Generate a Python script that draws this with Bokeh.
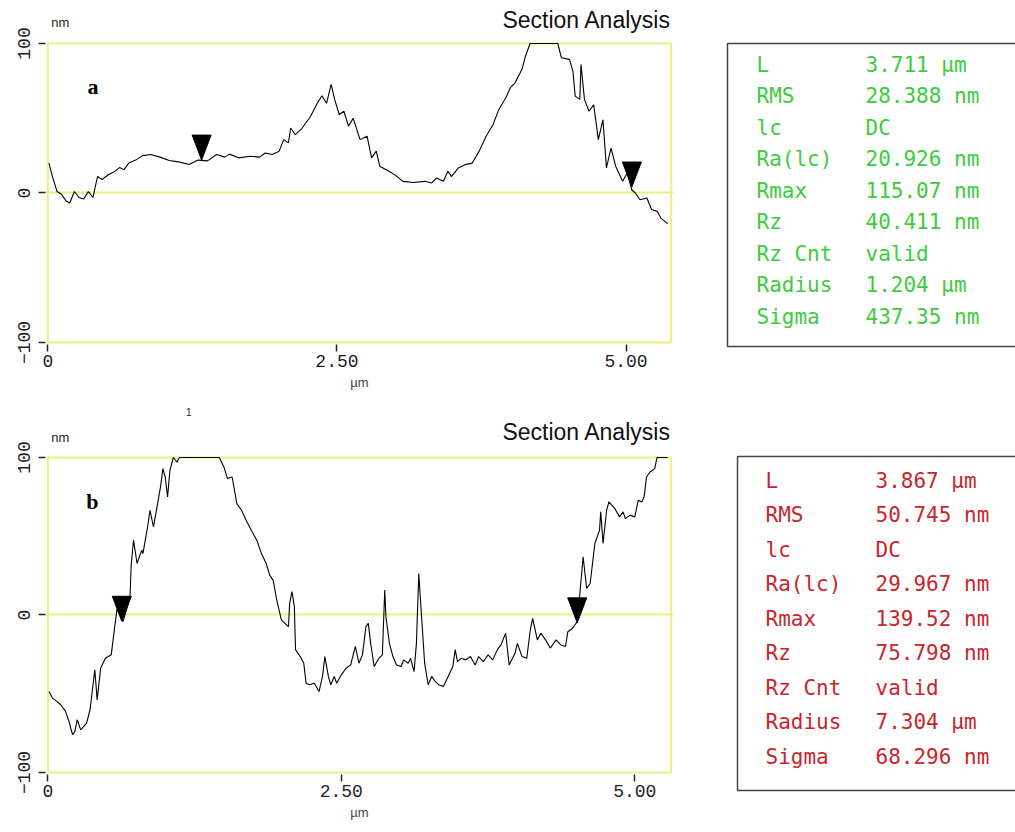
from bokeh.plotting import figure
from bokeh.layouts import column, row
from bokeh.models import Range1d, FixedTicker
from bokeh.embed import file_html
from bokeh.resources import INLINE
from bokeh.core.properties import value

# ---------------- data ----------------
# profile a (µm, nm)
a_x = [0.01, 0.04, 0.08, 0.12, 0.16, 0.19, 0.23, 0.27, 0.31, 0.35, 0.39, 0.43, 0.47, 0.52, 0.58,
       0.62, 0.66, 0.70, 0.76, 0.82, 0.89, 0.97, 1.05, 1.13, 1.22, 1.30, 1.38, 1.46, 1.53, 1.57,
       1.65, 1.75, 1.83, 1.88, 1.94, 2.00, 2.04, 2.08, 2.10, 2.14, 2.19, 2.27, 2.33, 2.37, 2.41,
       2.45, 2.48, 2.52, 2.56, 2.60, 2.64, 2.70, 2.76, 2.80, 2.84, 2.87, 2.95, 3.01, 3.07, 3.16,
       3.26, 3.32, 3.36, 3.42, 3.46, 3.49, 3.55, 3.61, 3.67, 3.73, 3.79, 3.85, 3.90, 3.96, 4.00,
       4.04, 4.10, 4.13, 4.17, 4.41, 4.44, 4.51, 4.54, 4.56, 4.60, 4.61, 4.64, 4.68, 4.72, 4.76,
       4.80, 4.83, 4.87, 4.91, 4.97, 5.01, 5.05, 5.08, 5.12, 5.18, 5.22, 5.27, 5.30, 5.36]
a_y = [20, 11, 1, -1, -5.6, -6.7, 1, -3, -4, 1, -3, 11, 9, 12, 14.5,
       17, 15.6, 20, 22, 25, 25.7, 24, 21.7, 20.8, 19, 22, 21.5, 25.7, 24, 26,
       23.5, 24.6, 24, 26.8, 25.7, 28, 35.7, 33.5, 43.5, 39, 42.5, 51, 60, 65, 60,
       72.6, 62.6, 52.5, 54.7, 44.7, 50, 35.7, 38, 23.5, 28, 17.9, 14.5, 11.6, 7.8, 7,
       7.8, 6.7, 10, 7.8, 14.5, 11, 16.8, 19, 20, 28, 38, 45.8, 55.9, 63.7, 70.4,
       73.7, 82.7, 91.5, 100, 100, 90.5, 89.4, 81.5, 64.8, 62.6, 86, 62.6, 54.7, 59, 35.7,
       49, 16.8, 30, 17.9, 7.8, 13.4, 2, 0, -4.5, -3.4, -11, -12.3, -16.8, -20.5]
# cursor markers (tip position on the profile)
a_marker_x = [1.33, 5.05]
a_marker_y = [22, 4]
a_xmax = 5.39

# profile b (µm, nm)
b_x = [0.01, 0.04, 0.08, 0.11, 0.15, 0.18, 0.21, 0.23, 0.25, 0.28, 0.33, 0.36, 0.40, 0.42, 0.45,
       0.49, 0.54, 0.57, 0.59, 0.62, 0.64, 0.67, 0.70, 0.71, 0.73, 0.76, 0.80, 0.81, 0.85, 0.87,
       0.90, 0.93, 0.96, 0.98, 1.00, 1.02, 1.04, 1.07, 1.10, 1.12, 1.46, 1.50, 1.53, 1.57, 1.61,
       1.65, 1.69, 1.74, 1.78, 1.82, 1.86, 1.89, 1.92, 1.95, 1.99, 2.05, 2.06, 2.08, 2.10, 2.11,
       2.15, 2.18, 2.20, 2.23, 2.27, 2.31, 2.34, 2.36, 2.39, 2.41, 2.44, 2.46, 2.50, 2.54, 2.58,
       2.59, 2.62, 2.65, 2.68, 2.71, 2.73, 2.75, 2.78, 2.82, 2.85, 2.87, 2.88, 2.91, 2.94, 2.97,
       3.01, 3.03, 3.07, 3.09, 3.12, 3.14, 3.16, 3.18, 3.21, 3.24, 3.27, 3.30, 3.33, 3.37, 3.41,
       3.45, 3.47, 3.49, 3.52, 3.56, 3.60, 3.64, 3.67, 3.71, 3.75, 3.79, 3.83, 3.86, 3.90, 3.93,
       3.98, 4.00, 4.04, 4.08, 4.11, 4.13, 4.17, 4.20, 4.24, 4.28, 4.33, 4.37, 4.41, 4.43, 4.47,
       4.51, 4.53, 4.56, 4.59, 4.62, 4.66, 4.70, 4.71, 4.73, 4.76, 4.78, 4.83, 4.87, 4.90, 4.92,
       4.96, 5.00, 5.03, 5.06, 5.08, 5.10, 5.13, 5.17, 5.19, 5.28]
b_y = [-48.6, -52.8, -55, -57, -61, -67.6, -76, -74, -66.5, -72.9, -68.6, -60, -34.8, -53.9, -33.8,
       -27.5, -25.3, -7.4, 4.2, 0, -4.2, 3.2, 11.6, 31.7, 47.5, 32.7, 41.2, 39, 56, 66.5,
       56, 68.6, 81.3, 92.9, 87.6, 75, 91.9, 100, 97, 100, 100, 94, 86.6, 87.6, 70.7,
       66.5, 60, 52.8, 47.5, 39, 32.7, 25.3, 22, 9.5, -3.2, -7.4, 7.4, 14.8, 5.3, -22,
       -26.4, -30.6, -43.3, -44.3, -43.3, -48.6, -39, -26.4, -39, -44.3, -39, -43.3, -38, -33.8, -31.7,
       -28.5, -20, -30.6, -25.3, -7.4, -5.3, -18, -32.7, -27.5, -25.3, 15.8, -1, -18, -26.4, -31.7,
       -32.7, -28.5, -30.6, -27.5, -35.9, -18, 26.4, 3.2, -30.6, -44.3, -39, -42.2, -44.3, -45.4, -39,
       -32.7, -22, -29.6, -27.5, -28.5, -26.4, -31.7, -26.4, -29.6, -25.3, -28.5, -22, -19, -11.6, -31.7,
       -24.3, -18, -26.4, -27.5, -9.5, -2.1, -15.8, -11.6, -15.8, -21, -15.8, -19, -20, -10.6, -8.4,
       -4.2, 11.6, 37, 16.9, 20, 45.4, 53.9, 65.5, 45.4, 66.5, 71.8, 67.6, 62.3, 65.5, 61.2,
       63.4, 62.3, 72.9, 71.8, 75, 87.6, 90.8, 92.9, 100, 100]
b_marker_x = [0.63, 4.51]
b_marker_y = [-4, -5]
b_xmax = 5.31

x_ticks = [0, 2.5, 5.0]
x_tick_labels = ["0", "2.50", "5.00"]
y_ticks = [-100, 0, 100]
y_min, y_max = -100, 100

stat_names = ["L", "RMS", "lc", "Ra(lc)", "Rmax", "Rz", "Rz Cnt", "Radius", "Sigma"]
a_stat_values = ["3.711 µm", "28.388 nm", "DC", "20.926 nm", "115.07 nm", "40.411 nm",
                 "valid", "1.204 µm", "437.35 nm"]
b_stat_values = ["3.867 µm", "50.745 nm", "DC", "29.967 nm", "139.52 nm", "75.798 nm",
                 "valid", "7.304 µm", "68.296 nm"]

TITLE = "Section Analysis"
UNIT_Y = "nm"
UNIT_X = "µm"

YELLOW = "#eeee80"
GREEN = "#3ccc3c"
RED = "#c8262c"
PAD_X = 0.02
MARK_W_PX = 19     # cursor triangle width in px
MARK_H_PX = 25     # cursor triangle height in px


def profile(xs, ys, xmax, mx, my, letter, letter_pos, height, y_top, y_bottom,
            frame_bottom_px, title_y, nm_y, extra=None):
    frame_w = 675 - 45 - 2
    px_per_x = frame_w / (xmax + 2 * PAD_X)
    px_per_y = frame_bottom_px / (y_top - y_bottom)
    p = figure(width=675, height=height,
               x_range=Range1d(-PAD_X, xmax + PAD_X), y_range=Range1d(y_bottom, y_top),
               output_backend="svg", toolbar_location=None,
               min_border_left=45, min_border_right=2, min_border_top=0,
               min_border_bottom=height - frame_bottom_px)
    p.outline_line_color = None
    p.xgrid.visible = False
    p.ygrid.ticker = FixedTicker(ticks=[0])
    p.ygrid.grid_line_color = YELLOW
    p.ygrid.grid_line_width = 2
    p.ygrid.bounds = (0, xmax)
    p.quad(left=[0], right=[xmax], bottom=[y_min], top=[y_max], fill_color=None,
           line_color=YELLOW, line_width=2)
    p.line(xs, ys, line_color="black", line_width=1.1)

    # inverted-triangle cursors whose tips sit on the profile
    hw = MARK_W_PX / 2 / px_per_x
    hh = MARK_H_PX / px_per_y
    tri_xs = [[x - hw, x + hw, x] for x in mx]
    tri_ys = [[y + hh, y + hh, y] for y in my]
    p.patches(tri_xs, tri_ys, fill_color="black", line_color="black", line_width=1)

    for ax in (p.xaxis[0], p.yaxis[0]):
        ax.axis_line_color = None
        ax.major_tick_in = 0
        ax.major_tick_out = 7
        ax.major_tick_line_color = "#222222"
        ax.major_tick_line_width = 1.5
        ax.minor_tick_line_color = None
        ax.major_label_text_font = "Liberation Mono"
        ax.major_label_text_font_size = "18px"
        ax.major_label_text_color = "#222222"
    p.yaxis.ticker = FixedTicker(ticks=y_ticks)
    p.yaxis.major_label_orientation = "vertical"
    p.yaxis.major_label_standoff = 8
    p.xaxis.ticker = FixedTicker(ticks=x_ticks)
    p.xaxis.major_label_overrides = {t: s for t, s in zip(x_ticks, x_tick_labels)}
    p.xaxis.major_label_standoff = 3
    p.xaxis.axis_label = UNIT_X
    p.xaxis.axis_label_text_font = "Liberation Sans"
    p.xaxis.axis_label_text_font_size = "13px"
    p.xaxis.axis_label_text_font_style = "normal"
    p.xaxis.axis_label_standoff = 5

    p.text(x=[letter_pos[0]], y=[letter_pos[1]], text=[letter],
           text_font=value("Liberation Serif"), text_font_style="bold",
           text_font_size="22px", text_baseline="middle", text_align="center",
           text_color="black")
    p.text(x=[xmax], y=[title_y], text=[TITLE], text_font=value("Liberation Sans"),
           text_font_size="23px", text_baseline="middle", text_align="right",
           text_color="#111111")
    p.text(x=[0.03], y=[nm_y], text=[UNIT_Y], text_font=value("Liberation Sans"),
           text_font_size="13px", text_baseline="middle", text_align="left",
           text_color="#222222")
    if extra:
        p.text(x=[extra[0]], y=[extra[1]], text=[extra[2]], text_font=value("Liberation Sans"),
               text_font_size="10px", text_baseline="middle", text_align="center",
               text_color="#222222")
    return p


def stats_box(names, values, color, height, left, top, bottom, label_x, value_x, row0, step):
    b = figure(width=340, height=height, x_range=Range1d(0, 340), y_range=Range1d(height, 0),
               output_backend="svg", toolbar_location=None, min_border=0)
    b.axis.visible = False
    b.grid.visible = False
    b.outline_line_color = None
    b.quad(left=[left], right=[360], top=[top], bottom=[bottom], fill_color=None,
           line_color="#444444", line_width=1.5)
    ys = [row0 + i * step for i in range(len(names))]
    b.text(x=[label_x] * len(names), y=ys, text=names, text_font=value("DejaVu Sans Mono"),
           text_font_size="21px", text_color=color, text_baseline="middle")
    b.text(x=[value_x] * len(values), y=ys, text=values, text_font=value("DejaVu Sans Mono"),
           text_font_size="21px", text_color=color, text_baseline="middle")
    return b


# top row: 405 px tall, frame 0..344, 100 nm at y=43, -100 nm at y=342
p1 = profile(a_x, a_y, a_xmax, a_marker_x, a_marker_y, "a", (0.39, 71), 405,
             128.76, -101.34, 344, 115.4, 114.0)
# bottom row: 427 px tall, frame 0..369, 100 nm at y=52, -100 nm at y=367
p2 = profile(b_x, b_y, b_xmax, b_marker_x, b_marker_y, "b", (0.38, 72), 427,
             133.0, -101.27, 369, 115.9, 112.7, extra=(1.2, 128.6, "1"))

b1 = stats_box(stat_names, a_stat_values, GREEN, 405, 52, 43, 346, 81, 190, 64, 31.5)
b2 = stats_box(stat_names, b_stat_values, RED, 427, 62, 51, 385, 90, 200, 75, 34.5)

layout = row(column(p1, p2), column(b1, b2))
open("out.html", "w").write(file_html(layout, INLINE))
